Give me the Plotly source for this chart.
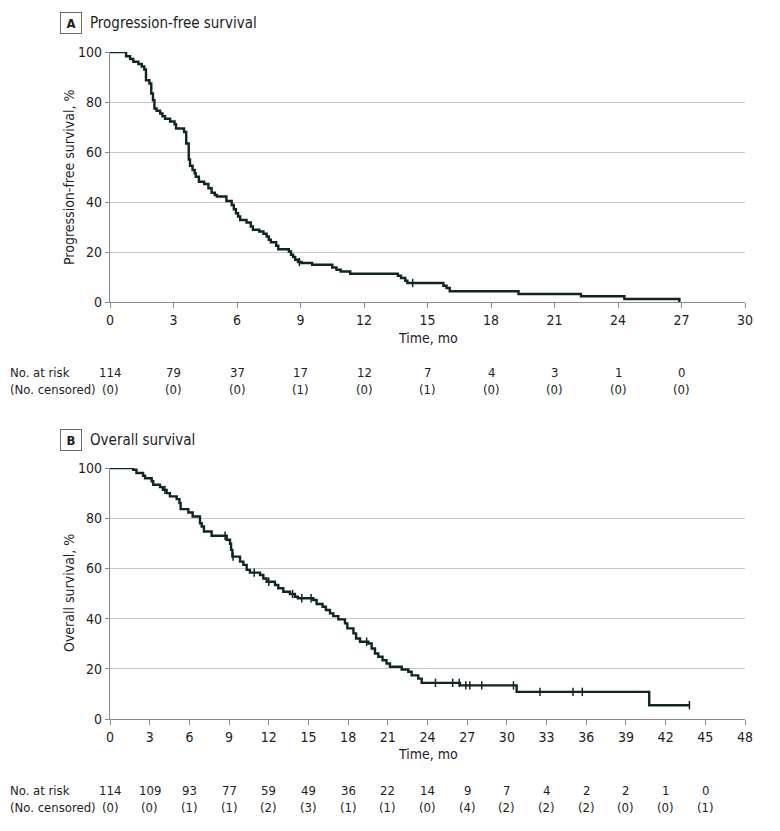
import plotly.graph_objects as go

# Panel A: progression-free survival (step points)
pfs_time = [0, 0.76, 0.95, 1.1, 1.34, 1.5, 1.62, 1.7, 1.86, 1.95, 2.03, 2.1, 2.2, 2.37, 2.48, 2.6,
            2.84, 3.05, 3.12, 3.5, 3.6, 3.72, 3.78, 3.9, 4.0, 4.05, 4.2, 4.45, 4.65, 4.8, 4.95,
            5.05, 5.5, 5.75, 5.85, 5.95, 6.05, 6.15, 6.45, 6.65, 6.75, 7.05, 7.25, 7.4, 7.5, 7.6,
            7.85, 7.95, 8.45, 8.55, 8.65, 8.75, 8.88, 9.05, 9.55, 10.5, 10.7, 10.9, 11.35, 13.6,
            13.75, 13.95, 14.05, 15.75, 15.9, 16.05, 19.3, 22.25, 24.3, 26.9]
pfs_surv = [100, 98.3, 97.2, 96.1, 95.2, 94.2, 93.0, 88.7, 87.4, 83.4, 80.7, 77.4, 76.5, 75.4, 74.3, 73.3,
            72.2, 71.1, 69.4, 68.0, 63.4, 57.0, 54.5, 52.8, 51.5, 50.1, 48.1, 47.2, 45.5, 43.7, 42.8,
            42.2, 40.4, 38.8, 37.1, 35.5, 34.2, 32.8, 31.8, 30.2, 28.9, 28.2, 27.3, 26.2, 24.9, 23.9,
            22.5, 21.1, 20.2, 18.9, 18.0, 16.9, 16.0, 15.6, 14.9, 13.8, 12.9, 12.2, 11.3, 10.5,
            9.6, 8.5, 7.6, 6.5, 5.6, 4.3, 3.2, 2.3, 1.2, 0]
pfs_cens_time = [8.95, 14.3]
pfs_cens_surv = [16.0, 7.6]
pfs_ticks = [0, 3, 6, 9, 12, 15, 18, 21, 24, 27, 30]
pfs_risk_time = [0, 3, 6, 9, 12, 15, 18, 21, 24, 27]
pfs_at_risk = [114, 79, 37, 17, 12, 7, 4, 3, 1, 0]
pfs_censored = [0, 0, 0, 1, 0, 1, 0, 0, 0, 0]

# Panel B: overall survival
os_time = [0, 1.76, 2.0, 2.5, 2.65, 3.15, 3.27, 3.78, 4.0, 4.28, 4.53, 5.04, 5.25, 5.34, 5.92, 6.25,
           6.8, 6.93, 7.1, 7.68, 8.82, 9.07, 9.15, 9.25, 9.83, 10.08, 10.33, 10.58, 11.34, 11.59,
           11.84, 12.47, 12.72, 13.1, 13.6, 13.98, 14.2, 15.37, 15.62, 16.07, 16.32, 16.63, 16.88,
           17.26, 17.76, 17.94, 18.4, 18.6, 18.9, 19.53, 19.78, 20.03, 20.28, 20.6, 20.9, 21.16,
           22.05, 22.55, 22.8, 23.3, 23.56, 26.45, 30.74, 40.76, 43.8]
os_surv = [100, 99.3, 98.0, 96.9, 95.9, 94.7, 93.3, 92.4, 91.3, 90.0, 88.7, 87.6, 86.0, 83.6, 82.3, 80.7,
           78.0, 76.7, 74.7, 73.0, 71.4, 69.8, 67.4, 64.7, 62.7, 61.4, 59.4, 58.3, 57.4, 56.0,
           54.7, 53.4, 52.1, 50.7, 49.8, 48.7, 48.1, 47.4, 45.8, 44.7, 43.4, 42.1, 41.0,
           39.7, 38.1, 36.1, 34.1, 32.1, 30.8, 30.1, 28.1, 26.1, 24.8, 23.4, 22.1, 20.8,
           19.7, 18.8, 17.4, 16.1, 14.4, 13.4, 10.8, 5.5, 5.5]
os_cens_time = [4.15, 8.7, 9.3, 10.9, 12.0, 13.8, 14.5, 15.2, 19.4, 24.6, 25.9, 26.4, 26.9, 27.2,
                28.1, 30.5, 32.5, 35.0, 35.7, 43.8]
os_cens_surv = [91.3, 73.0, 64.7, 58.3, 54.7, 49.8, 48.1, 48.1, 30.8, 14.4, 14.4, 14.4, 13.4, 13.4,
                13.4, 13.4, 10.8, 10.8, 10.8, 5.5]
os_ticks = list(range(0, 49, 3))
os_risk_time = list(range(0, 46, 3))
os_at_risk = [114, 109, 93, 77, 59, 49, 36, 22, 14, 9, 7, 4, 2, 2, 1, 0]
os_censored = [0, 0, 1, 1, 2, 3, 1, 1, 0, 4, 2, 2, 2, 0, 0, 1]

LINE = '#0e2626'
GRID = '#c8c8c8'
AXIS = '#8c8c8c'
TXT = '#1e1e1e'
FONT = 'DejaVu Sans Condensed, Liberation Sans Narrow, Liberation Sans, sans-serif'

W, H = 780, 831
L, R = 110, 745
OFF = 8  # default page margin of the html body


def px_x(p):
    return (p - L) / (R - L)


def px_y(p):
    return 1 - (p - OFF) / H


fig = go.Figure()

panels = [
    dict(x='x', y='y', t=pfs_time, s=pfs_surv, ct=pfs_cens_time, cs=pfs_cens_surv),
    dict(x='x2', y='y2', t=os_time, s=os_surv, ct=os_cens_time, cs=os_cens_surv),
]
for p in panels:
    fig.add_trace(go.Scatter(x=p['t'], y=p['s'], xaxis=p['x'], yaxis=p['y'], mode='lines',
                             line=dict(color=LINE, width=2.4, shape='hv'), cliponaxis=False,
                             showlegend=False, hoverinfo='skip'))
    fig.add_trace(go.Scatter(x=p['ct'], y=p['cs'], xaxis=p['x'], yaxis=p['y'], mode='markers',
                             marker=dict(symbol='line-ns', size=6, line=dict(color=LINE, width=1.5)),
                             cliponaxis=False, showlegend=False, hoverinfo='skip'))

xcommon = dict(showgrid=False, showline=True, linecolor=AXIS, linewidth=1.2, ticks='outside',
               ticklen=5, tickcolor=AXIS, tickfont=dict(family=FONT, size=14, color=TXT),
               zeroline=False, domain=[0, 1])
ycommon = dict(range=[0, 100], tickvals=[0, 20, 40, 60, 80, 100], showgrid=True, gridcolor=GRID,
               gridwidth=1.2, showline=True, linecolor=AXIS, linewidth=1.2, ticks='outside',
               ticklen=4, tickcolor=AXIS, tickfont=dict(family=FONT, size=14, color=TXT),
               zeroline=False)

fig.update_layout(
    width=W, height=H,
    margin=dict(l=L - OFF, r=W - R + OFF, t=0, b=0, autoexpand=False),
    paper_bgcolor='white', plot_bgcolor='white',
    xaxis=dict(xcommon, range=[0, 30], tickvals=pfs_ticks, anchor='y'),
    yaxis=dict(ycommon, domain=[px_y(302), px_y(52)], anchor='x'),
    xaxis2=dict(xcommon, range=[0, 48], tickvals=os_ticks, anchor='y2'),
    yaxis2=dict(ycommon, domain=[px_y(719), px_y(468)], anchor='x2'),
)

ann = []
panel_info = [
    ('A', 'Progression-free survival', 23, 'Progression-free survival, %', 177, 338, 372, 389, 'x',
     pfs_risk_time, pfs_at_risk, pfs_censored),
    ('B', 'Overall survival', 440, 'Overall survival, %', 593, 754, 790, 807, 'x2',
     os_risk_time, os_at_risk, os_censored),
]
for letter, title, ty, ytitle, ymid, xt_y, r1, r2, xref, rt, ar, ce in panel_info:
    ann.append(dict(x=px_x(71), y=px_y(ty), xref='paper', yref='paper', text='<b>%s</b>' % letter,
                    showarrow=False, font=dict(family=FONT, size=13, color=TXT),
                    bordercolor='#6a6a6a', borderwidth=1, borderpad=2, width=16, height=16,
                    xanchor='center', yanchor='middle'))
    ann.append(dict(x=px_x(88), y=px_y(ty), xref='paper', yref='paper', text=title, showarrow=False,
                    font=dict(family=FONT, size=15, color=TXT), xanchor='left', yanchor='middle'))
    ann.append(dict(x=px_x(69), y=px_y(ymid), xref='paper', yref='paper', text=ytitle, textangle=-90,
                    showarrow=False, font=dict(family=FONT, size=14, color=TXT),
                    xanchor='center', yanchor='middle'))
    ann.append(dict(x=0.5, y=px_y(xt_y), xref='paper', yref='paper', text='Time, mo', showarrow=False,
                    font=dict(family=FONT, size=14, color=TXT), xanchor='center', yanchor='middle'))
    ann.append(dict(x=px_x(8), y=px_y(r1), xref='paper', yref='paper', text='No. at risk',
                    showarrow=False, font=dict(family=FONT, size=13, color=TXT),
                    xanchor='left', yanchor='middle'))
    ann.append(dict(x=px_x(8), y=px_y(r2), xref='paper', yref='paper', text='(No. censored)',
                    showarrow=False, font=dict(family=FONT, size=13, color=TXT),
                    xanchor='left', yanchor='middle'))
    for t, a, c in zip(rt, ar, ce):
        ann.append(dict(x=t, y=px_y(r1), xref=xref, yref='paper', text=str(a), showarrow=False,
                        font=dict(family=FONT, size=13, color=TXT), xanchor='center', yanchor='middle'))
        ann.append(dict(x=t, y=px_y(r2), xref=xref, yref='paper', text='(%d)' % c, showarrow=False,
                        font=dict(family=FONT, size=13, color=TXT), xanchor='center', yanchor='middle'))

fig.update_layout(annotations=ann)

fig.write_html("out.html")
